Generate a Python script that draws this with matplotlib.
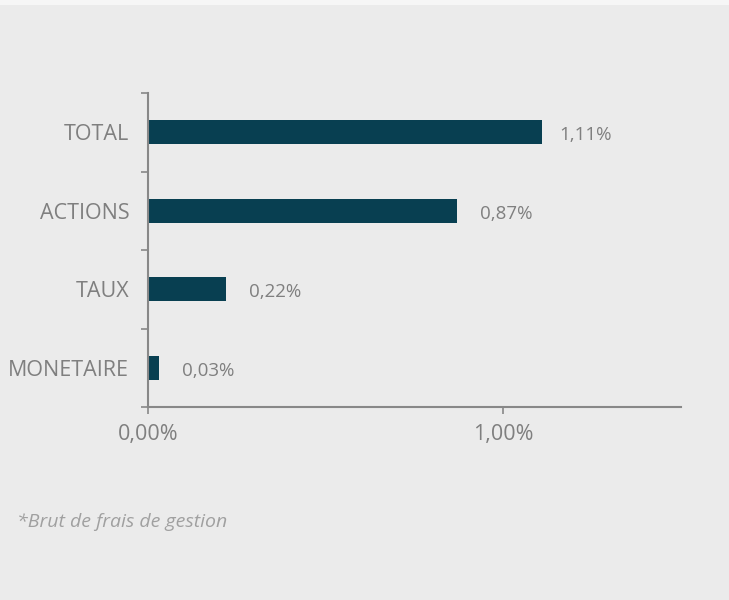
import matplotlib
matplotlib.use('Agg')
import matplotlib.pyplot as plt
from matplotlib.ticker import FuncFormatter

# données
categories = ['TOTAL', 'ACTIONS', 'TAUX', 'MONETAIRE']
valeurs = [1.11, 0.87, 0.22, 0.03]
note = '*Brut de frais de gestion'

plt.rcParams['font.family'] = ['Open Sans', 'DejaVu Sans']

fond = '#ebebeb'
gris = '#7f7f7f'
bleu = '#083f51'

fig = plt.figure(figsize=(7.29, 6.0), dpi=100, facecolor=fond)
# bande claire en haut
fig.patches.append(plt.Rectangle((0, 1 - 5/600), 1, 5/600, transform=fig.transFigure,
                                 facecolor='#f6f6f6', edgecolor='none'))

ax = fig.add_axes([148/729, 193/600, 533/729, 314/600])
ax.set_facecolor(fond)

pos = list(range(len(categories)))[::-1]
ax.barh(pos, valeurs, height=0.3, color=bleu)

ax.set_xlim(0, 1.5)
ax.set_ylim(-0.5, len(categories) - 0.5)

# étiquettes de valeurs (décalage en points, 1 pt = 1.39 px)
for p, v in zip(pos, valeurs):
    ax.annotate(('%.2f%%' % v).replace('.', ','), (v, p), xytext=(16.5 if v < 1 else 12, -2),
                textcoords='offset points', va='center', ha='left',
                fontsize=13.5, color=gris)

ax.set_yticks(pos)
ax.set_yticklabels(categories)
ax.set_yticks([x - 0.5 for x in range(len(categories) + 1)], minor=True)
ax.tick_params(axis='y', which='major', length=0, pad=13.5, labelsize=15.5, labelcolor=gris)
ax.tick_params(axis='y', which='minor', length=5, width=1.2, color='#888888', direction='out')

ax.set_xticks([0, 1.0])
ax.xaxis.set_major_formatter(FuncFormatter(lambda x, _: ('%.2f%%' % x).replace('.', ',')))
ax.tick_params(axis='x', length=5, width=1.2, color='#888888', pad=7, labelsize=15.5, labelcolor=gris)

for s in ['top', 'right']:
    ax.spines[s].set_visible(False)
for s in ['left', 'bottom']:
    ax.spines[s].set_color('#888888')
    ax.spines[s].set_linewidth(1.5)

fig.text(17/729, 1 - 522/600, note, fontsize=14, style='italic', color='#a0a0a0',
         va='center', ha='left')

fig.savefig('out.png', dpi=100, facecolor=fond)
